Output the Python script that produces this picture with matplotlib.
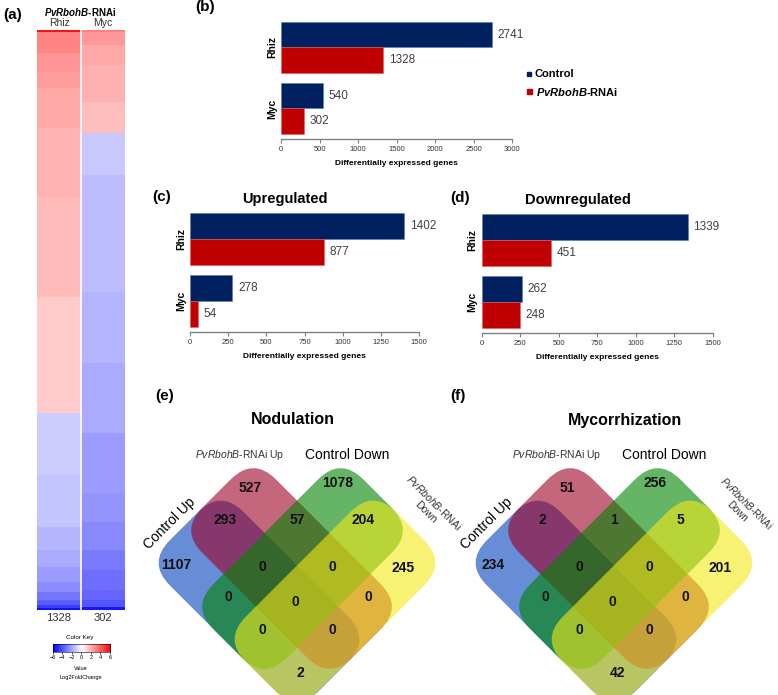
import numpy as np
import matplotlib
matplotlib.use("Agg")
import matplotlib.pyplot as plt
from matplotlib.patches import FancyBboxPatch, Rectangle
from matplotlib.transforms import Affine2D

plt.rcParams['font.family'] = ['Liberation Sans', 'DejaVu Sans']
plt.rcParams['mathtext.fontset'] = 'custom'
plt.rcParams['mathtext.rm'] = 'Liberation Sans'
plt.rcParams['mathtext.it'] = 'Liberation Sans:italic'
plt.rcParams['mathtext.bf'] = 'Liberation Sans:bold'
plt.rcParams['mathtext.bfit'] = 'Liberation Sans:italic:bold'
NARROW = ['Liberation Sans Narrow', 'Liberation Sans', 'DejaVu Sans']

# (a) heatmap, log2 fold change bands (row edges counted from the top, 580 rows)
heat_cols = ["Rhiz", "Myc"]
heat_counts = [1328, 302]
rhiz_rows = [0, 2, 23, 42, 58, 98, 167, 267, 383, 445, 497, 520, 537, 552, 562, 570, 575, 578, 580]
rhiz_lfc = [5.6, 2.9, 2.5, 2.3, 2.05, 1.8, 1.6, 1.25, -1.2, -1.4, -1.7, -2.0, -2.3, -2.7, -3.2, -3.8, -4.6, -5.6]
myc_rows = [0, 2, 15, 35, 72, 103, 145, 262, 333, 403, 463, 492, 520, 540, 560, 570, 577, 580]
myc_lfc = [3.0, 2.4, 2.05, 1.85, 1.5, -1.3, -1.55, -1.75, -2.0, -2.3, -2.5, -2.8, -3.1, -3.4, -3.6, -4.0, -5.5]

# (b)-(d) differentially expressed genes
bar_rows = ["Rhiz", "Myc"]
all_control = [2741, 540]
all_rnai = [1328, 302]
up_control = [1402, 278]
up_rnai = [877, 54]
down_control = [1339, 262]
down_rnai = [451, 248]

# (e)-(f) venn counts; A=Control Up, B=RNAi Up, C=Control Down, D=RNAi Down
venn_regions = ["A", "B", "C", "D", "AB", "BC", "CD", "AD", "ABC", "BCD", "AC", "BD", "ABCD", "ACD", "ABD"]
nod_counts = [1107, 527, 1078, 245, 293, 57, 204, 2, 0, 0, 0, 0, 0, 0, 0]
myc_counts = [234, 51, 256, 201, 2, 1, 5, 42, 0, 0, 0, 0, 0, 0, 0]

NAVY = '#002060'
RED = '#c00000'

W, H = 778, 695
fig = plt.figure(figsize=(W / 100, H / 100), dpi=100)


def px_axes(x0, y0, x1, y1):
    return fig.add_axes([x0 / W, 1 - y1 / H, (x1 - x0) / W, (y1 - y0) / H])


canvas = fig.add_axes([0, 0, 1, 1])
canvas.set_xlim(0, W)
canvas.set_ylim(H, 0)
canvas.axis('off')
canvas.set_zorder(10)

# ---- (a) heatmap
hax = px_axes(37, 30, 125, 610)
for i, (rows, vals) in enumerate([(rhiz_rows, rhiz_lfc), (myc_rows, myc_lfc)]):
    hax.pcolormesh([i, i + 1], rows, np.array(vals)[:, None], cmap='bwr', vmin=-6, vmax=6)
hax.set_xlim(0, 2)
hax.set_ylim(580, 0)
hax.axvline(1, color='white', lw=1.2)
hax.axis('off')
for i, (c, n) in enumerate(zip(heat_cols, heat_counts)):
    hax.text(i + 0.5, 1.004, c, transform=hax.get_xaxis_transform(), ha='center', va='bottom',
             fontsize=7.5, color='#333333')
    hax.text(i + 0.5, -0.006, str(n), transform=hax.get_xaxis_transform(), ha='center', va='top',
             fontsize=8, color='#333333')
canvas.text(80, 12, r'$\mathbfit{PvRbohB}$-RNAi', ha='center', va='center', fontsize=7, fontweight='bold')

# color key
kax = px_axes(52.7, 644, 110, 651.7)
kax.imshow(np.linspace(-6, 6, 256)[None, :], cmap='bwr', aspect='auto', extent=[-6, 6, 0, 1])
kax.set_yticks([])
kax.set_xticks(range(-6, 7, 2))
kax.tick_params(axis='x', labelsize=4, length=1.5, width=0.5, pad=1)
for s in kax.spines.values():
    s.set_linewidth(0.4)
canvas.text(80, 638, 'Color Key', ha='center', va='center', fontsize=4.5)
canvas.text(81, 669, 'Value', ha='center', va='center', fontsize=4)
canvas.text(81, 677, 'Log2FoldChange', ha='center', va='center', fontsize=4)


# ---- bar panels
def bar_panel(ax, control, rnai, xmax, step):
    centers = np.array([0.0, 2.4])
    ax.barh(centers, control, height=1, color=NAVY, edgecolor='#5b7db5', linewidth=0.4)
    ax.barh(centers + 1, rnai, height=1, color=RED, edgecolor='#e06060', linewidth=0.4)
    for ys, vals in ((centers, control), (centers + 1, rnai)):
        for y, v in zip(ys, vals):
            ax.annotate(str(v), (v, y), xytext=(4, 0), textcoords='offset points', va='center',
                        ha='left', fontsize=8.5, color='#404040', family=NARROW)
    ax.set_xlim(0, xmax)
    ax.set_ylim(4.1, -0.65)
    ax.set_xticks(np.arange(0, xmax + 1, step))
    ax.set_yticks(centers + 0.5)
    ax.set_yticklabels(bar_rows, rotation=90, va='center', fontweight='bold', fontsize=7.5)
    for t in ax.get_xticklabels():
        t.set_family(NARROW)
    ax.tick_params(axis='x', labelsize=5.5, length=3, width=0.8, color='#7f7f7f', pad=2, labelcolor='#333333')
    ax.tick_params(axis='y', length=0, pad=3)
    for s in ('top', 'right', 'left'):
        ax.spines[s].set_visible(False)
    ax.spines['bottom'].set_color('#7f7f7f')
    ax.spines['bottom'].set_linewidth(1.0)
    ax.set_xlabel('Differentially expressed genes', fontsize=6, fontweight='bold', labelpad=5, family=NARROW)
    ax.set_facecolor('none')


bax = px_axes(281, 18, 512, 139)
bar_panel(bax, all_control, all_rnai, 3000, 500)
cax = px_axes(190, 209.6, 419.3, 331.7)
bar_panel(cax, up_control, up_rnai, 1500, 250)
dax = px_axes(481.6, 210.3, 712.7, 332.7)
bar_panel(dax, down_control, down_rnai, 1500, 250)
canvas.text(285, 199, 'Upregulated', ha='center', va='center', fontsize=10.5, fontweight='bold')
canvas.text(578, 200, 'Downregulated', ha='center', va='center', fontsize=10.5, fontweight='bold')

# legend for (b)
canvas.add_patch(Rectangle((527, 71.5), 4.5, 4.5, color=NAVY))
canvas.add_patch(Rectangle((527.5, 89), 4.5, 4.5, color=RED))
canvas.text(535, 74, 'Control', va='center', fontsize=8, fontweight='bold')
canvas.text(536.5, 91.5, r'$\mathbfit{PvRbohB}$-RNAi', va='center', fontsize=8, fontweight='bold')

# ---- venn panels
VL, VW, VR = 212, 104, 32
venn_colors = ['#0041bb', '#9d0025', '#008500', '#f2e917']
shape_geom = [(-38, 601, 45), (-5.5, 568.5, 45), (5.5, 568.5, -45), (38, 601, -45)]
region_pos = [(-121, 565), (-47, 488), (41, 483), (106, 568), (-72, 520), (0, 520), (66, 520), (3, 673),
              (-35, 567), (35, 567), (-69, 597), (71, 597), (-2, 602), (-35, 630), (35, 630)]


def venn(cx, counts, title, title_dx, down_dx, down_size):
    for (dx, y, ang), col in zip(shape_geom, venn_colors):
        p = FancyBboxPatch((cx + dx - VL / 2, y - VW / 2), VL, VW,
                           boxstyle=f"round,pad=0,rounding_size={VR}", fc=col, ec='none', alpha=0.6)
        p.set_transform(Affine2D().rotate_deg_around(cx + dx, y, ang) + canvas.transData)
        canvas.add_patch(p)
    for (dx, y), n in zip(region_pos, counts):
        canvas.text(cx + dx, y, str(n), ha='center', va='center', fontsize=10, fontweight='bold', color='#111111')
    canvas.text(cx + title_dx, 420, title, ha='center', va='center', fontsize=11.5, fontweight='bold')
    canvas.text(cx - 127, 523, 'Control Up', rotation=45, ha='center', va='center', fontsize=10)
    canvas.text(cx - 57, 455, r'$\mathit{PvRbohB}$-RNAi Up', ha='center', va='center', fontsize=7.5, color='#333333')
    canvas.text(cx + 50, 455, 'Control Down', ha='center', va='center', fontsize=10)
    canvas.text(cx + down_dx, 507, r'$\mathit{PvRbohB}$-RNAi' + '\nDown', rotation=-45, ha='center', va='center',
                fontsize=down_size, color='#333333', multialignment='center')


venn(297, nod_counts, 'Nodulation', -4, 133, 7.5)
venn(614, myc_counts, 'Mycorrhization', 11, 128, 7)

# panel letters
for lab, (x, y) in zip(['(a)', '(b)', '(c)', '(d)', '(e)', '(f)'],
                       [(13, 15), (205, 7), (162, 197), (460, 198), (165, 396), (458, 396)]):
    canvas.text(x, y, lab, ha='center', va='center', fontsize=11, fontweight='bold')

fig.savefig('out.png', dpi=100)
